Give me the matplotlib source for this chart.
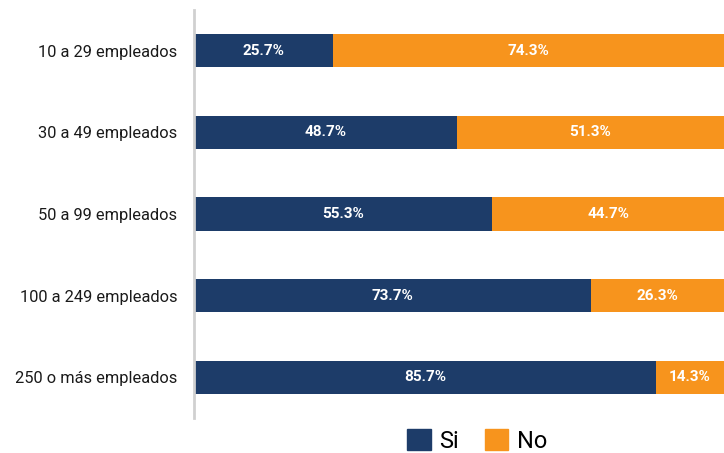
import matplotlib
matplotlib.use("Agg")
import matplotlib.pyplot as plt
from matplotlib.patches import Patch

plt.rcParams["font.family"] = ["Roboto", "DejaVu Sans"]

categories = ["10 a 29 empleados", "30 a 49 empleados", "50 a 99 empleados",
              "100 a 249 empleados", "250 o más empleados"]
si_values = [25.7, 48.7, 55.3, 73.7, 85.7]
no_values = [74.3, 51.3, 44.7, 26.3, 14.3]
series_names = ["Si", "No"]

navy = "#1d3c69"
orange = "#f7941d"
x_max = 98.3  # the chart is cut at the right edge

fig = plt.figure(figsize=(7.24, 4.53), dpi=100)
ax = fig.add_axes([194 / 724, 35 / 453, 1 - 194 / 724, 408 / 453])

y = list(range(len(categories)))
ax.barh(y, si_values, height=0.405, color=navy, edgecolor="none")
ax.barh(y, no_values, left=si_values, height=0.405, color=orange, edgecolor="none")

for i in y:
    s = si_values[i]
    n = no_values[i]
    ax.text(s / 2, i, f"{s}%", ha="center", va="center", color="white",
            fontsize=11, fontweight="bold")
    right = min(s + n, x_max)
    ax.text((s + right) / 2, i, f"{n}%", ha="center", va="center", color="white",
            fontsize=11, fontweight="bold")

ax.set_xlim(0, x_max)
ax.set_ylim(len(categories) - 0.5, -0.5)
ax.set_yticks(y)
ax.set_yticklabels(categories, fontsize=11.8, color="#1a1a1a")
ax.tick_params(axis="y", length=0, pad=12)
ax.set_xticks([])
for side in ["top", "right", "bottom"]:
    ax.spines[side].set_visible(False)
ax.spines["left"].set_color("#d0d0d0")
ax.spines["left"].set_linewidth(2)

handles = [Patch(color=navy), Patch(color=orange)]
fig.legend(handles, series_names, loc="center", bbox_to_anchor=(477 / 724, 1 - 441 / 453),
           ncol=2, frameon=False, fontsize=17, handlelength=1.0, handleheight=1.0,
           handletextpad=0.35, columnspacing=1.1)

fig.savefig("out.png", dpi=100)
